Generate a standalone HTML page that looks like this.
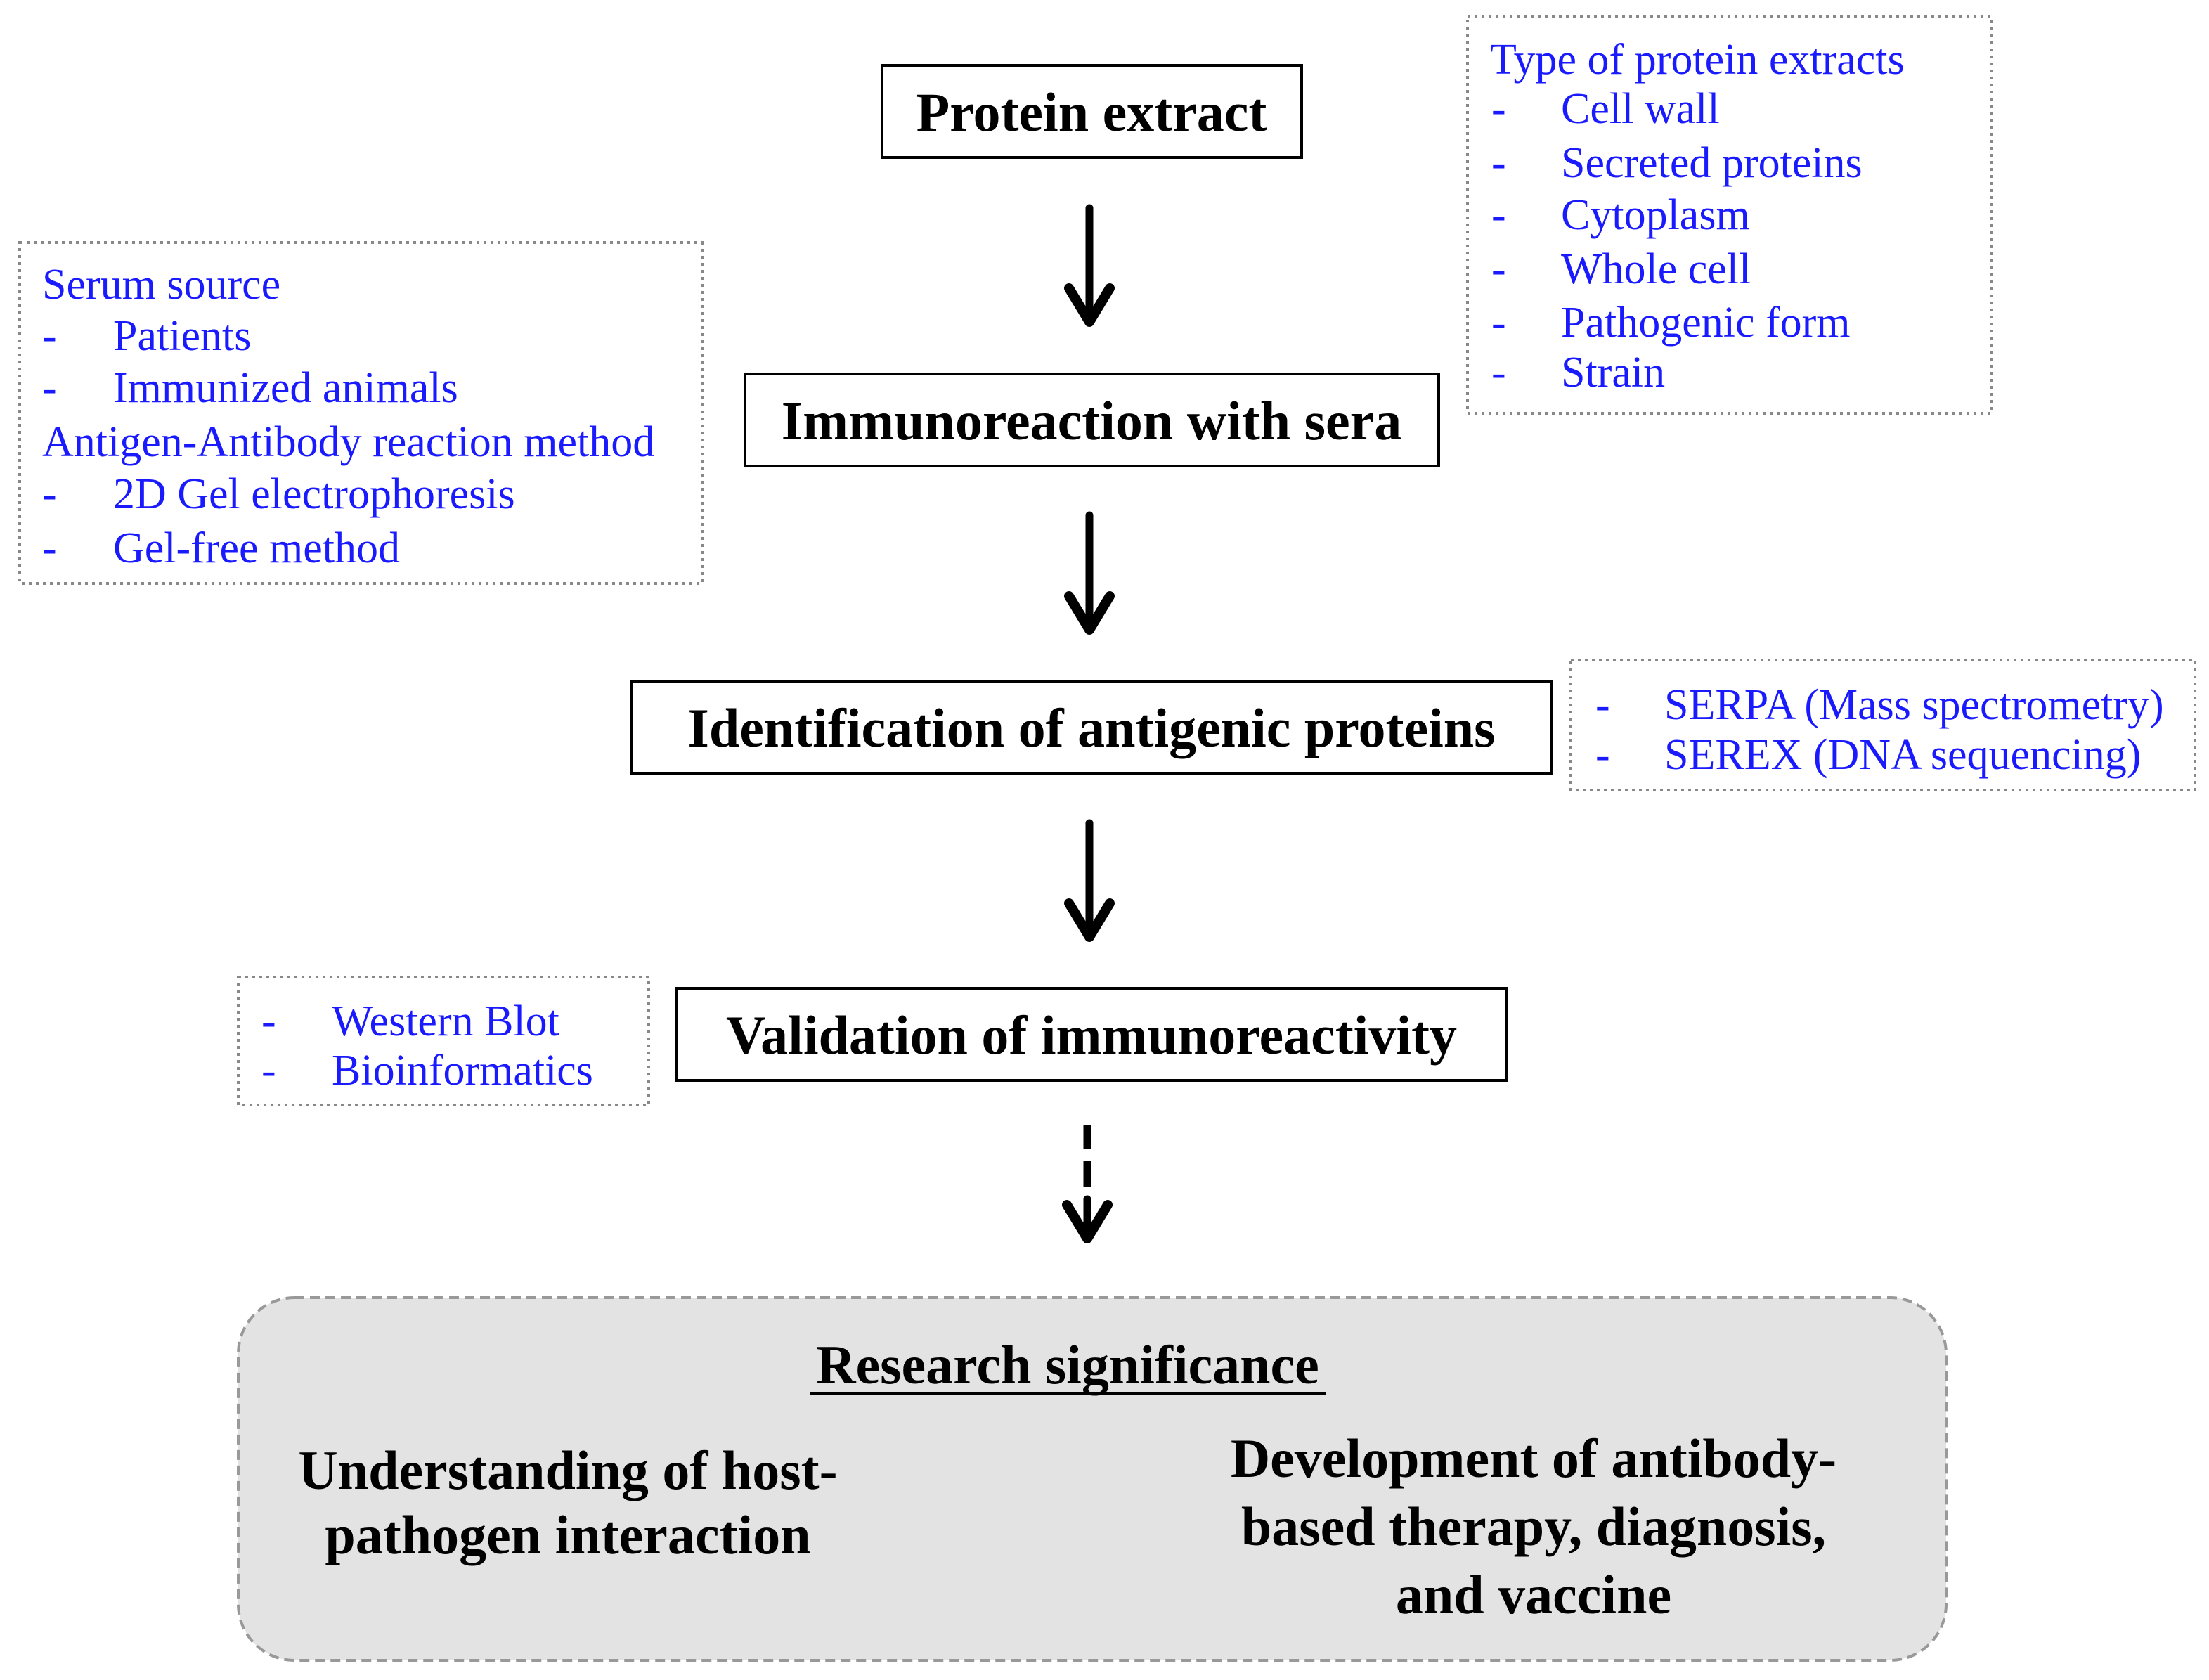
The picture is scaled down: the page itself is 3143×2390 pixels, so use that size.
<!DOCTYPE html>
<html><head><meta charset="utf-8"><style>html,body{margin:0;padding:0;background:#fff}svg{display:block}</style></head>
<body>
<svg width="3143" height="2390" viewBox="0 0 3143 2390" xmlns="http://www.w3.org/2000/svg" font-family="Liberation Serif, serif">
<rect width="3143" height="2390" fill="#fff"/>
<g fill="#fff" stroke="#000" stroke-width="4">
<rect x="1255" y="93" width="597" height="131"/>
<rect x="1060" y="532" width="987" height="131"/>
<rect x="899" y="969" width="1309" height="131"/>
<rect x="963" y="1406" width="1181" height="131"/>
</g>
<g font-weight="bold" font-size="78" text-anchor="middle" fill="#000">
<text x="1553" y="186">Protein extract</text>
<text x="1553" y="625">Immunoreaction with sera</text>
<text x="1553" y="1062">Identification of antigenic proteins</text>
<text x="1553" y="1499">Validation of immunoreactivity</text>
</g>
<g stroke="#000" stroke-width="11" fill="none" stroke-linecap="round" stroke-linejoin="round">
<line x1="1550" y1="296" x2="1550" y2="455"/><polyline points="1521,410 1550,458 1579,410" stroke-width="14"/>
<line x1="1550" y1="733" x2="1550" y2="893"/><polyline points="1521,848 1550,896 1579,848" stroke-width="14"/>
<line x1="1550" y1="1171" x2="1550" y2="1330"/><polyline points="1521,1285 1550,1333 1579,1285" stroke-width="14"/>
<line x1="1547" y1="1600" x2="1547" y2="1634" stroke-linecap="butt"/>
<line x1="1547" y1="1652" x2="1547" y2="1688" stroke-linecap="butt"/>
<line x1="1547" y1="1706" x2="1547" y2="1758"/>
<polyline points="1518,1714 1547,1762 1576,1714" stroke-width="14"/>
</g>
<rect x="339" y="1846" width="2430" height="516" rx="80" fill="#e3e3e3" stroke="#999" stroke-width="4" stroke-dasharray="14,8"/>
<g font-weight="bold" font-size="78" text-anchor="middle" fill="#000">
<text x="1519" y="1968">Research significance</text>
<line x1="1152" y1="1982" x2="1886" y2="1982" stroke="#000" stroke-width="4"/>
<text x="808" y="2118">Understanding of host-</text>
<text x="808" y="2210">pathogen interaction</text>
<text x="2182" y="2101">Development of antibody-</text>
<text x="2182" y="2198">based therapy, diagnosis,</text>
<text x="2182" y="2295">and vaccine</text>
</g>
<g fill="none" stroke="#888" stroke-width="4" stroke-dasharray="4,6">
<rect x="2088" y="24" width="745" height="564"/>
<rect x="28" y="345" width="971" height="485"/>
<rect x="2235" y="939" width="888" height="185"/>
<rect x="339" y="1390" width="584" height="182"/>
</g>
<g font-size="62" fill="#1a1aff">
<text x="2120" y="105">Type of protein extracts</text>
<text x="2122" y="175">-</text><text x="2221" y="175">Cell wall</text>
<text x="2122" y="252">-</text><text x="2221" y="252">Secreted proteins</text>
<text x="2122" y="326">-</text><text x="2221" y="326">Cytoplasm</text>
<text x="2122" y="403">-</text><text x="2221" y="403">Whole cell</text>
<text x="2122" y="479">-</text><text x="2221" y="479">Pathogenic form</text>
<text x="2122" y="550">-</text><text x="2221" y="550">Strain</text>
<text x="60" y="425">Serum source</text>
<text x="60" y="498">-</text><text x="161" y="498">Patients</text>
<text x="60" y="572">-</text><text x="161" y="572">Immunized animals</text>
<text x="60" y="649">Antigen-Antibody reaction method</text>
<text x="60" y="723">-</text><text x="161" y="723">2D Gel electrophoresis</text>
<text x="60" y="800">-</text><text x="161" y="800">Gel-free method</text>
<text x="2270" y="1023">-</text><text x="2368" y="1023">SERPA (Mass spectrometry)</text>
<text x="2270" y="1094">-</text><text x="2368" y="1094">SEREX (DNA sequencing)</text>
<text x="372" y="1473">-</text><text x="472" y="1473">Western Blot</text>
<text x="372" y="1543">-</text><text x="472" y="1543">Bioinformatics</text>
</g>
</svg>
</body></html>
